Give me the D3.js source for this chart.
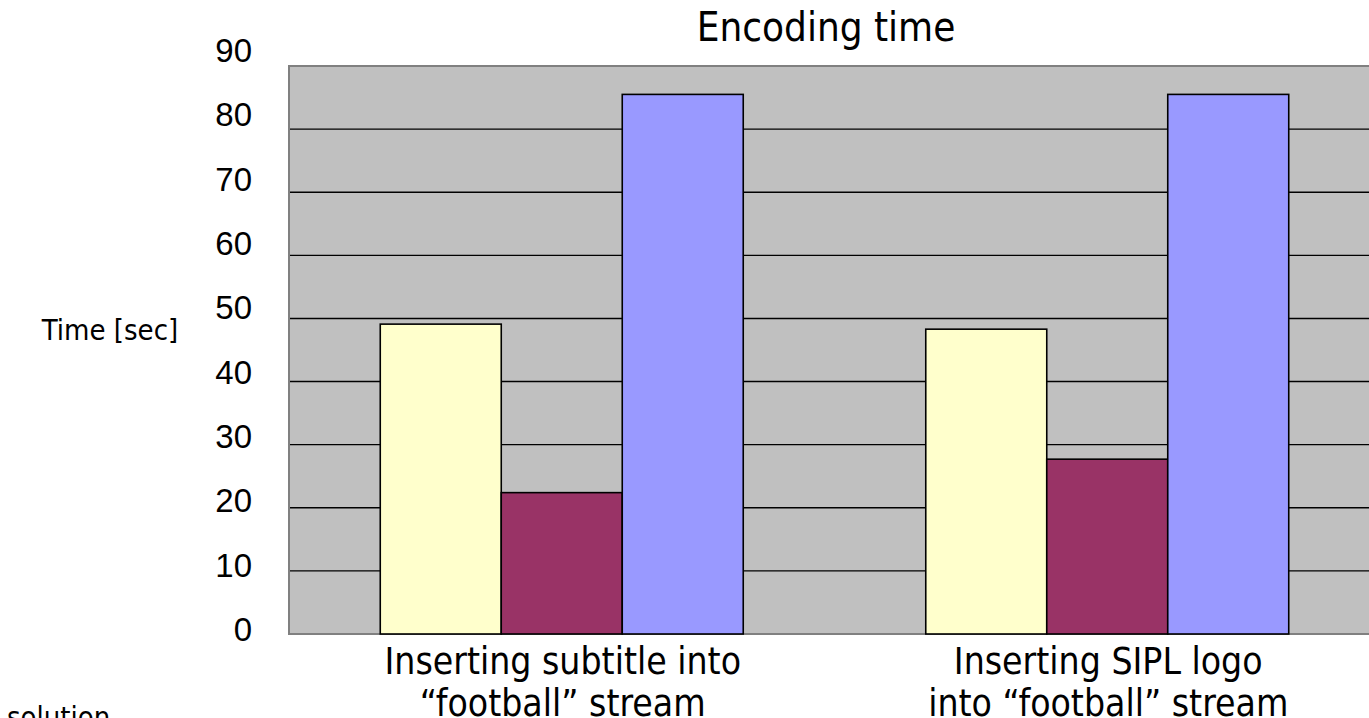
<!DOCTYPE html>
<html>
<head>
<meta charset="utf-8">
<script src="https://cdn.jsdelivr.net/npm/d3@7"></script>
<style>
  html, body { margin: 0; padding: 0; background: #ffffff; }
  svg { display: block; }
  .tahoma { font-family: "DejaVu Sans Condensed", "DejaVu Sans", sans-serif; }
  .arial { font-family: "Liberation Sans", Arial, sans-serif; }
</style>
</head>
<body>
<svg id="chart" width="1369" height="718"></svg>
<script>
// Encoding time per scenario, three encoder configurations
const categories = [
  ["Inserting subtitle into", "\u201Cfootball\u201D stream"],
  ["Inserting SIPL logo", "into \u201Cfootball\u201D stream"]
];
const seriesNames = ["A", "B", "C"];
const seriesA = [49.1, 48.3];
const seriesB = [22.4, 27.7];
const seriesC = [85.5, 85.5];
const tickValues = [0, 10, 20, 30, 40, 50, 60, 70, 80, 90];
const seriesColors = ["#FFFFCC", "#993366", "#9999FF"];

const svg = d3.select("#chart");
const plot = { left: 289, top: 66, right: 1380, bottom: 634 };

const x0 = d3.scaleBand()
  .domain(d3.range(categories.length))
  .range([plot.left, plot.right])
  .paddingInner(0).paddingOuter(0);

const gapFrac = 0.3346;
const x1 = d3.scaleBand()
  .domain(seriesNames)
  .range([x0.bandwidth() * gapFrac / 2, x0.bandwidth() * (1 - gapFrac / 2)])
  .padding(0);

const y = d3.scaleLinear().domain([0, 90]).range([plot.bottom, plot.top]);
// value labels sit on a slightly taller scale than the gridlines
const yLabel = d3.scaleLinear().domain([0, 90]).range([641, 62]);

// plot background
svg.append("rect")
  .attr("x", plot.left).attr("y", plot.top)
  .attr("width", plot.right - plot.left).attr("height", plot.bottom - plot.top)
  .attr("fill", "#C0C0C0");

// gridlines
svg.append("g")
  .selectAll("line")
  .data(tickValues.filter(v => v > 0 && v < 90))
  .join("line")
  .attr("x1", plot.left).attr("x2", plot.right)
  .attr("y1", d => y(d)).attr("y2", d => y(d))
  .attr("stroke", "#000").attr("stroke-width", 1.4);

// plot frame (top, left, bottom)
svg.append("path")
  .attr("d", `M${plot.right},${plot.top}H${plot.left}V${plot.bottom}H${plot.right}`)
  .attr("fill", "none").attr("stroke", "#808080").attr("stroke-width", 2);

// bars
const rows = categories.map((c, i) => ({
  i,
  values: [seriesA[i], seriesB[i], seriesC[i]]
}));

const groups = svg.append("g")
  .selectAll("g")
  .data(rows)
  .join("g")
  .attr("transform", d => `translate(${x0(d.i)},0)`);

groups.selectAll("rect")
  .data(d => d.values.map((v, k) => ({ name: seriesNames[k], value: v, k })))
  .join("rect")
  .attr("x", d => x1(d.name))
  .attr("y", d => y(d.value))
  .attr("width", x1.bandwidth())
  .attr("height", d => y(0) - y(d.value))
  .attr("fill", d => seriesColors[d.k])
  .attr("stroke", "#000")
  .attr("stroke-width", 1.6);

// y tick labels
svg.append("g")
  .selectAll("text")
  .data(tickValues)
  .join("text")
  .attr("class", "arial")
  .attr("x", 252)
  .attr("y", d => yLabel(d))
  .attr("text-anchor", "end")
  .attr("font-size", 33)
  .attr("fill", "#000")
  .text(d => d);

// category labels
const catG = svg.append("g");
rows.forEach(r => {
  const cx = x0(r.i) + x0.bandwidth() / 2;
  categories[r.i].forEach((line, li) => {
    catG.append("text")
      .attr("class", "tahoma")
      .attr("x", cx + 1)
      .attr("y", 674 + li * 42)
      .attr("text-anchor", "middle")
      .attr("font-size", 37)
      .attr("fill", "#000")
      .text(line);
  });
});

// title
svg.append("text")
  .attr("class", "tahoma")
  .attr("x", 826).attr("y", 41)
  .attr("text-anchor", "middle")
  .attr("font-size", 40)
  .attr("fill", "#000")
  .text("Encoding time");

// y axis title
svg.append("text")
  .attr("class", "tahoma")
  .attr("x", 110).attr("y", 340)
  .attr("text-anchor", "middle")
  .attr("font-size", 29)
  .attr("fill", "#000")
  .text("Time [sec]");

// footnote fragment at the lower edge
svg.append("text")
  .attr("class", "tahoma")
  .attr("x", 7).attr("y", 727)
  .attr("font-size", 29)
  .attr("fill", "#000")
  .text("solution");
</script>
</body>
</html>
